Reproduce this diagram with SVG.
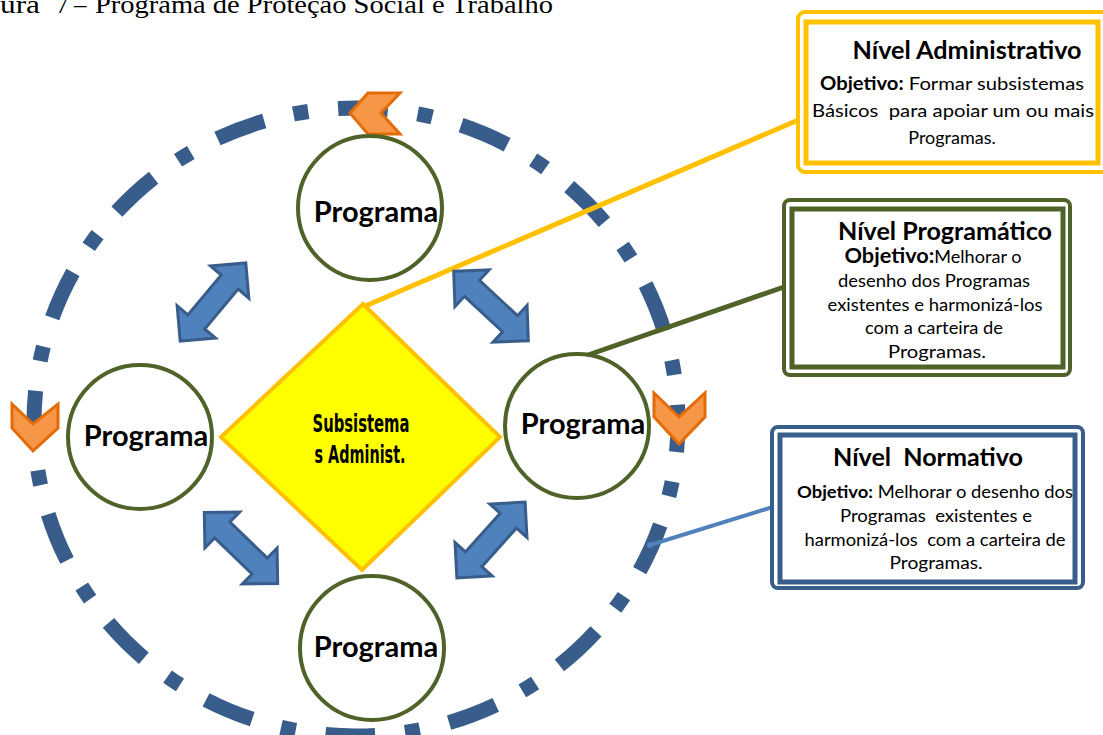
<svg xmlns="http://www.w3.org/2000/svg" width="1103" height="735" viewBox="0 0 1103 735">
<style>
.prog{fill:#fff;stroke:#4f6228;stroke-width:4}
.ptxt{font-family:Lato,"Open Sans",sans-serif;font-weight:bold;font-size:29px;fill:#000;text-anchor:middle}
.arr{fill:#4f81bd;stroke:#385d8a;stroke-width:3;stroke-linejoin:miter}
.chev{fill:#f79646;stroke:#e36c09;stroke-width:3}
.bt{font-family:Lato,"Open Sans",sans-serif;fill:#000;text-anchor:middle}
.b{font-weight:bold}
</style>
<defs>
<path id="dbl" d="M-51,0 L-26,-25 L-26,-11 L26,-11 L26,-25 L51,0 L26,25 L26,11 L-26,11 L-26,25 Z"/>
</defs>
<rect width="1103" height="735" fill="#fff"/>
<text y="13" font-family="'Liberation Serif','Times New Roman',serif" font-size="25" xml:space="preserve"><tspan x="0" textLength="40" lengthAdjust="spacingAndGlyphs">ura</tspan><tspan x="56">7</tspan><tspan x="74">–</tspan><tspan x="95" textLength="458" lengthAdjust="spacingAndGlyphs">Programa de Proteção Social e Trabalho</tspan></text>

<g id="outer-ring">
<ellipse cx="356" cy="422" rx="322" ry="314" fill="none" stroke="#385d8a" stroke-width="15" stroke-dasharray="50 30 15 30" stroke-dashoffset="20"/>
</g>

<g id="chevrons">
<polygon class="chev" points="350,113 368,93 400,93 381,113 400,134 368,134"/>
<polygon class="chev" points="12,404 33,424 58,404 58,428 33,451 12,428"/>
<polygon class="chev" points="654,393 679,417 705,393 705,417 679,444 654,417"/>
</g>

<g id="connectors">
<line x1="363" y1="307" x2="803" y2="118" stroke="#ffc000" stroke-width="5"/>
<line x1="588" y1="355" x2="787" y2="286" stroke="#4f6228" stroke-width="5"/>
<line x1="650" y1="545" x2="776" y2="506" stroke="#4f81bd" stroke-width="4"/>
<circle cx="650" cy="545" r="3" fill="#4f81bd"/>
<circle cx="776" cy="506" r="3" fill="#4f81bd"/>
</g>

<g id="arrows">
<use href="#dbl" class="arr" transform="translate(213,302) rotate(-50)"/>
<use href="#dbl" class="arr" transform="translate(491,306) rotate(43)"/>
<use href="#dbl" class="arr" transform="translate(241,548) rotate(44)"/>
<use href="#dbl" class="arr" transform="translate(491,540) rotate(-48)"/>
</g>

<g id="diamond">
<polygon points="363,304 500,437 362,570 221,437" fill="#ffff00" stroke="#ffc000" stroke-width="4"/>
<text x="361" y="432" font-family="'Liberation Sans Narrow','DejaVu Sans Condensed',sans-serif" font-weight="bold" font-size="24" text-anchor="middle" textLength="97" lengthAdjust="spacingAndGlyphs">Subsistema</text>
<text x="360" y="463" font-family="'Liberation Sans Narrow','DejaVu Sans Condensed',sans-serif" font-weight="bold" font-size="24" text-anchor="middle" textLength="91" lengthAdjust="spacingAndGlyphs">s Administ.</text>
</g>

<g id="programa-top">
<circle class="prog" cx="370" cy="208" r="72"/>
<text class="ptxt" x="376" y="222">Programa</text>
</g>
<g id="programa-left">
<circle class="prog" cx="140" cy="437" r="72"/>
<text class="ptxt" x="146" y="446">Programa</text>
</g>
<g id="programa-right">
<circle class="prog" cx="577" cy="426" r="72"/>
<text class="ptxt" x="583" y="434">Programa</text>
</g>
<g id="programa-bottom">
<circle class="prog" cx="372" cy="648" r="72"/>
<text class="ptxt" x="376" y="657">Programa</text>
</g>

<g id="nivel-administrativo">
<rect x="798" y="12" width="312" height="160" rx="7" fill="#fff" stroke="#ffc000" stroke-width="4"/>
<rect x="806" y="22" width="292" height="141" fill="none" stroke="#ffc000" stroke-width="5"/>
<text class="bt b" x="967" y="59" font-size="24" textLength="229" lengthAdjust="spacingAndGlyphs">Nível Administrativo</text>
<text class="bt" x="952" y="90" font-size="18" textLength="264" lengthAdjust="spacingAndGlyphs"><tspan font-weight="bold">Objetivo:</tspan> Formar  subsistemas</text>
<text class="bt" x="953" y="117" font-size="18" textLength="282" lengthAdjust="spacingAndGlyphs" xml:space="preserve">Básicos  para apoiar um ou mais</text>
<text class="bt" x="952" y="144" font-size="18">Programas.</text>
</g>

<g id="nivel-programatico">
<rect x="784" y="200" width="286" height="175" rx="6" fill="#fff" stroke="#4f6228" stroke-width="4"/>
<rect x="792" y="209" width="271" height="158" fill="none" stroke="#4f6228" stroke-width="5"/>
<text class="bt b" x="945" y="240" font-size="25" textLength="214" lengthAdjust="spacingAndGlyphs">Nível Programático</text>
<text class="bt" x="933" y="263" font-size="17.5" textLength="177" lengthAdjust="spacingAndGlyphs"><tspan font-weight="bold" font-size="21">Objetivo:</tspan>Melhorar o</text>
<text class="bt" x="934" y="287" font-size="17.5" textLength="192" lengthAdjust="spacingAndGlyphs">desenho dos Programas</text>
<text class="bt" x="935" y="311" font-size="17.5" textLength="215" lengthAdjust="spacingAndGlyphs">existentes e harmonizá-los</text>
<text class="bt" x="934" y="334" font-size="17.5" textLength="138" lengthAdjust="spacingAndGlyphs">com a carteira de</text>
<text class="bt" x="937" y="358" font-size="17.5" textLength="98" lengthAdjust="spacingAndGlyphs">Programas.</text>
</g>

<g id="nivel-normativo">
<rect x="772" y="427" width="311" height="161" rx="6" fill="#fff" stroke="#385d8a" stroke-width="4"/>
<rect x="780" y="435" width="295" height="147" fill="none" stroke="#385d8a" stroke-width="5"/>
<text class="bt b" x="928" y="466" font-size="24" textLength="190" lengthAdjust="spacingAndGlyphs" xml:space="preserve">Nível  Normativo</text>
<text class="bt" x="935" y="498" font-size="17.5" textLength="276" lengthAdjust="spacingAndGlyphs"><tspan font-weight="bold">Objetivo:</tspan> Melhorar o desenho dos</text>
<text class="bt" x="936" y="522" font-size="17.5" textLength="192" lengthAdjust="spacingAndGlyphs" xml:space="preserve">Programas  existentes e</text>
<text class="bt" x="935" y="546" font-size="17.5" textLength="261" lengthAdjust="spacingAndGlyphs" xml:space="preserve">harmonizá-los  com a carteira de</text>
<text class="bt" x="936" y="569" font-size="17.5" textLength="93" lengthAdjust="spacingAndGlyphs">Programas.</text>
</g>
</svg>
